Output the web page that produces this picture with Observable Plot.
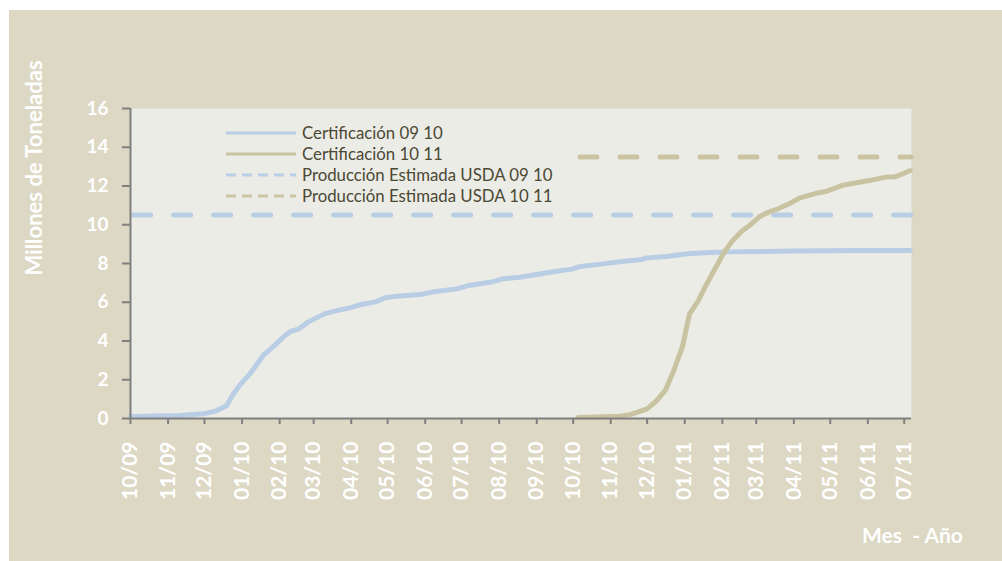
<!DOCTYPE html>
<html>
<head>
<meta charset="utf-8">
<script src="https://cdn.jsdelivr.net/npm/d3@7"></script>
<script src="https://cdn.jsdelivr.net/npm/@observablehq/plot@0.6"></script>
<style>
  html, body { margin: 0; padding: 0; background: #ffffff; }
  #wrap { position: relative; width: 1002px; height: 561px; overflow: hidden; }
  #panel { position: absolute; left: 9px; top: 10px; right: 0; bottom: 0; background: #ddd8c4; }
  #chart { position: absolute; left: 0; top: 0; }
  #ylabel { position: absolute; left: 33px; top: 168px; transform: translate(-50%, -50%) rotate(-90deg);
    white-space: nowrap; font: bold 22px Lato, sans-serif; color: #ffffff; }
  #xlabel { position: absolute; left: 862px; top: 522px; white-space: pre;
    font: bold 21px Lato, sans-serif; color: #ffffff; }
  #legend { position: absolute; left: 226px; top: 122px; font: 16.8px Lato, sans-serif; color: #4b4834; }
  #legend .row { height: 21px; display: flex; align-items: center; }
  #legend svg { margin-right: 6px; }
</style>
</head>
<body>
<div id="wrap">
  <div id="panel"></div>
  <div id="chart"></div>
  <div id="ylabel">Millones de Toneladas</div>
  <div id="xlabel">Mes  - Año</div>
  <div id="legend"></div>
</div>
<script>
// ---- Data ----
const xTickLabels = ["10/09","11/09","12/09","01/10","02/10","03/10","04/10","05/10","06/10","07/10","08/10","09/10",
  "10/10","11/10","12/10","01/11","02/11","03/11","04/11","05/11","06/11","07/11"];
const yTicks = [0, 2, 4, 6, 8, 10, 12, 14, 16];
const xDomain = ["2009-10-01", "2011-07-07"];

const cert0910Dates = ["2009-10-01","2009-11-11","2009-11-30","2009-12-10","2009-12-19","2009-12-24","2009-12-31",
  "2010-01-08","2010-01-19","2010-01-27","2010-02-04","2010-02-10","2010-02-17","2010-02-25","2010-03-10","2010-03-20",
  "2010-03-31","2010-04-08","2010-04-21","2010-04-29","2010-05-06","2010-05-28","2010-06-08","2010-06-27","2010-07-08",
  "2010-07-27","2010-08-04","2010-08-18","2010-09-21","2010-09-30","2010-10-07","2010-10-26","2010-11-12","2010-11-25",
  "2010-12-01","2010-12-17","2011-01-03","2011-01-22","2011-02-05","2011-04-01","2011-05-27","2011-07-06"];
const cert0910Values = [0.10,0.15,0.24,0.38,0.64,1.19,1.79,
  2.34,3.30,3.72,4.20,4.50,4.63,5.00,5.40,5.57,
  5.71,5.87,6.02,6.23,6.30,6.40,6.54,6.69,6.88,
  7.06,7.21,7.29,7.64,7.71,7.85,7.98,8.12,8.19,
  8.29,8.36,8.50,8.57,8.60,8.64,8.67,8.67];

const cert1011Dates = ["2010-10-05","2010-11-09","2010-11-17","2010-12-01","2010-12-09","2010-12-16","2010-12-23",
  "2010-12-30","2011-01-05","2011-01-12","2011-01-18","2011-01-26","2011-02-02","2011-02-09","2011-02-17","2011-02-24",
  "2011-03-04","2011-03-11","2011-03-18","2011-03-29","2011-04-06","2011-04-20","2011-04-28","2011-05-11","2011-05-26",
  "2011-06-02","2011-06-16","2011-06-23","2011-06-28","2011-07-06"];
const cert1011Values = [0.05,0.12,0.20,0.50,0.93,1.45,2.48,
  3.68,5.40,6.06,6.81,7.73,8.53,9.15,9.67,9.99,
  10.43,10.65,10.80,11.11,11.39,11.63,11.73,12.03,12.21,
  12.28,12.46,12.47,12.58,12.80];

const seriesNames = ["Certificación 09 10", "Certificación 10 11", "Producción Estimada USDA 09 10", "Producción Estimada USDA 10 11"];
const usdaValues = [10.5, 13.5];
const usdaStart = ["2009-10-04", "2010-10-07"];
const usdaEnd = ["2011-07-07", "2011-07-07"];

const blue = "#b9cde5", tan = "#c9c3a1";

// ---- Build tables ----
const parse = d3.utcParse("%Y-%m-%d");
const parseTick = d3.utcParse("%m/%y");
const fmtTick = d3.utcFormat("%m/%y");
const tickDates = xTickLabels.map(parseTick);
const s1 = cert0910Dates.map((d, i) => ({date: parse(d), value: cert0910Values[i]}));
const s2 = cert1011Dates.map((d, i) => ({date: parse(d), value: cert1011Values[i]}));
const usda = usdaValues.map((v, i) => ({value: v, x1: parse(usdaStart[i]), x2: parse(usdaEnd[i]), color: [blue, tan][i]}));
const xd = xDomain.map(parse);

const tickFont = "Lato, sans-serif";
const chart = Plot.plot({
  width: 1002,
  height: 561,
  marginLeft: 130,
  marginRight: 91,
  marginTop: 108,
  marginBottom: 143,
  style: {background: "transparent", overflow: "visible"},
  x: {type: "utc", domain: xd},
  y: {domain: [0, 16]},
  marks: [
    Plot.frame({fill: "#ecece6", stroke: null}),
    Plot.ruleY(usda, {y: "value", x1: "x1", x2: "x2", stroke: "color", strokeWidth: 5,
      strokeDasharray: "17,23", strokeLinecap: "round"}),
    Plot.line(s1, {x: "date", y: "value", stroke: blue, strokeWidth: 5, strokeLinejoin: "round"}),
    Plot.line(s2, {x: "date", y: "value", stroke: tan, strokeWidth: 5, strokeLinejoin: "round"}),
    Plot.ruleY([0], {stroke: "#7f7f7f", strokeWidth: 2}),
    Plot.ruleX([xd[0]], {stroke: "#7f7f7f", strokeWidth: 2}),
    Plot.axisY({ticks: yTicks, tickSize: 8, tickPadding: 14, stroke: "#7f7f7f", strokeWidth: 2,
      fill: "#ffffff", fontSize: 19, fontWeight: "bold", fontFamily: tickFont, label: null}),
    Plot.axisX({ticks: tickDates, tickFormat: fmtTick, tickSize: 6, tickPadding: 17, tickRotate: -90,
      stroke: "#7f7f7f", strokeWidth: 2, fill: "#ffffff", fontSize: 21, fontWeight: "bold",
      fontFamily: tickFont, label: null})
  ]
});
document.getElementById("chart").appendChild(chart);

// ---- Legend ----
const legend = document.getElementById("legend");
const legendColors = [blue, tan, blue, tan];
const legendDash = [null, null, "10,6", "10,6"];
seriesNames.forEach((name, i) => {
  const row = document.createElement("div");
  row.className = "row";
  const sw = d3.create("svg").attr("width", 70).attr("height", 6);
  sw.append("line").attr("x1", 0).attr("x2", 70).attr("y1", 3).attr("y2", 3)
    .attr("stroke", legendColors[i]).attr("stroke-width", 3)
    .attr("stroke-dasharray", legendDash[i]);
  row.appendChild(sw.node());
  const t = document.createElement("span");
  t.textContent = name;
  row.appendChild(t);
  legend.appendChild(row);
});
</script>
</body>
</html>
